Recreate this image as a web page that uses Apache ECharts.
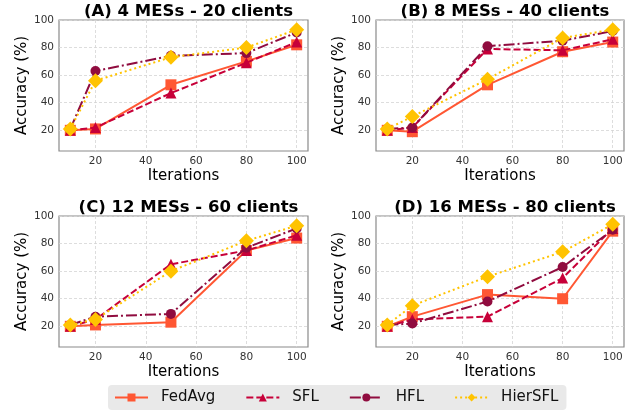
<!DOCTYPE html>
<html>
<head>
<meta charset="utf-8">
<script src="https://cdn.jsdelivr.net/npm/echarts@6/dist/echarts.min.js"></script>
<style>
  html, body { margin: 0; padding: 0; background: #ffffff; }
  #chart { width: 633px; height: 419px; }
</style>
</head>
<body>
<div id="chart"></div>
<script>
// Shared x values (training iterations) and y tick values
const iterations = [10, 20, 50, 80, 100];
const xTicks = [20, 40, 60, 80, 100];
const yTicks = [20, 40, 60, 80, 100];

const panelTitles = [
  '(A) 4 MESs - 20 clients',
  '(B) 8 MESs - 40 clients',
  '(C) 12 MESs - 60 clients',
  '(D) 16 MESs - 80 clients'
];

// Accuracy (%) per method, one row per panel (A, B, C, D)
const fedAvg = [
  [20, 21, 53, 70, 82],
  [20, 19, 53, 77, 84],
  [20, 21, 23, 75, 84],
  [20, 27, 43, 40, 89]
];
const sfl = [
  [20, 22, 47, 69, 84],
  [20, 22, 79, 78, 86],
  [20, 25, 65, 75, 86],
  [20, 25, 27, 55, 91]
];
const hfl = [
  [21, 63, 74, 76, 91],
  [21, 22, 81, 85, 92],
  [21, 27, 29, 77, 91],
  [21, 22, 38, 63, 90]
];
const hierSfl = [
  [21, 56, 73, 80, 93],
  [21, 30, 57, 87, 93],
  [21, 25, 60, 82, 93],
  [21, 35, 56, 74, 94]
];

const methods = [
  { name: 'FedAvg',  values: fedAvg,  color: '#FF5733', dash: 'solid',          symbol: 'rect',     size: 11 },
  { name: 'SFL',     values: sfl,     color: '#C70039', dash: [7, 3],           symbol: 'triangle', size: 11 },
  { name: 'HFL',     values: hfl,     color: '#900C3F', dash: [11, 3, 2, 3],    symbol: 'circle',   size: 10 },
  { name: 'HierSFL', values: hierSfl, color: '#FFC300', dash: [2, 3],           symbol: 'diamond',  size: 15 }
];

// Panel placement (pixels)
const panels = [
  { left: 59,  top: 20,  width: 249, height: 131 },
  { left: 376, top: 20,  width: 248, height: 131 },
  { left: 59,  top: 216, width: 249, height: 131 },
  { left: 376, top: 216, width: 248, height: 131 }
];

const font = 'DejaVu Sans';

const grids = panels.map(p => ({
  left: p.left, top: p.top, width: p.width, height: p.height,
  show: true, borderColor: '#8a8a8a', borderWidth: 1.2, backgroundColor: 'transparent',
  containLabel: false
}));

const titles = panels.map((p, i) => ({
  text: panelTitles[i],
  left: p.left + p.width / 2,
  top: p.top - 22,
  textAlign: 'center',
  textStyle: { fontFamily: font, fontWeight: 'bold', fontSize: 16.5, color: '#000' }
}));

const gridLine = { show: true, lineStyle: { color: '#d4d4d4', width: 0.8, type: [3, 2] } };

const xAxes = panels.map((p, i) => ({
  type: 'value', gridIndex: i, min: 5.5, max: 104.5,
  name: 'Iterations', nameLocation: 'middle', nameGap: 18,
  nameTextStyle: { fontFamily: font, fontSize: 15, color: '#000' },
  axisLine: { show: false },
  axisTick: { show: false, customValues: xTicks },
  axisLabel: { customValues: xTicks, fontFamily: font, fontSize: 10.5, color: '#333', margin: 5 },
  splitLine: Object.assign({ customValues: xTicks }, gridLine)
}));

const yAxes = panels.map((p, i) => ({
  type: 'value', gridIndex: i, min: 5, max: 100,
  name: 'Accuracy (%)', nameLocation: 'middle', nameGap: 25,
  nameTextStyle: { fontFamily: font, fontSize: 15, color: '#000' },
  axisLine: { show: false },
  axisTick: { show: false, customValues: yTicks },
  axisLabel: { customValues: yTicks, fontFamily: font, fontSize: 10.5, color: '#333', margin: 5 },
  splitLine: Object.assign({ customValues: yTicks }, gridLine)
}));

const series = [];
panels.forEach((p, i) => {
  methods.forEach((m, k) => {
    series.push({
      name: m.name,
      type: 'line',
      xAxisIndex: i, yAxisIndex: i,
      data: iterations.map((x, j) => [x, m.values[i][j]]),
      symbol: m.symbol,
      symbolSize: m.size,
      showAllSymbol: true,
      z: 2 + k,
      itemStyle: { color: m.color, opacity: 1 },
      lineStyle: { color: m.color, width: 2, type: m.dash },
      emphasis: { disabled: true },
      animation: false
    });
  });
});

const chart = echarts.init(document.getElementById('chart'), null, { renderer: 'canvas' });
chart.setOption({
  animation: false,
  title: titles,
  grid: grids,
  xAxis: xAxes,
  yAxis: yAxes,
  legend: {
    data: methods.map(m => m.name),
    left: 108, top: 385,
    width: 463,
    padding: [5, 8, 5, 6],
    backgroundColor: '#e9e9e9',
    borderRadius: 4,
    itemWidth: 33, itemHeight: 10,
    itemGap: 30,
    textStyle: { fontFamily: font, fontSize: 15, color: '#111', padding: [0, 0, 0, 8] }
  },
  series: series
});
</script>
</body>
</html>
